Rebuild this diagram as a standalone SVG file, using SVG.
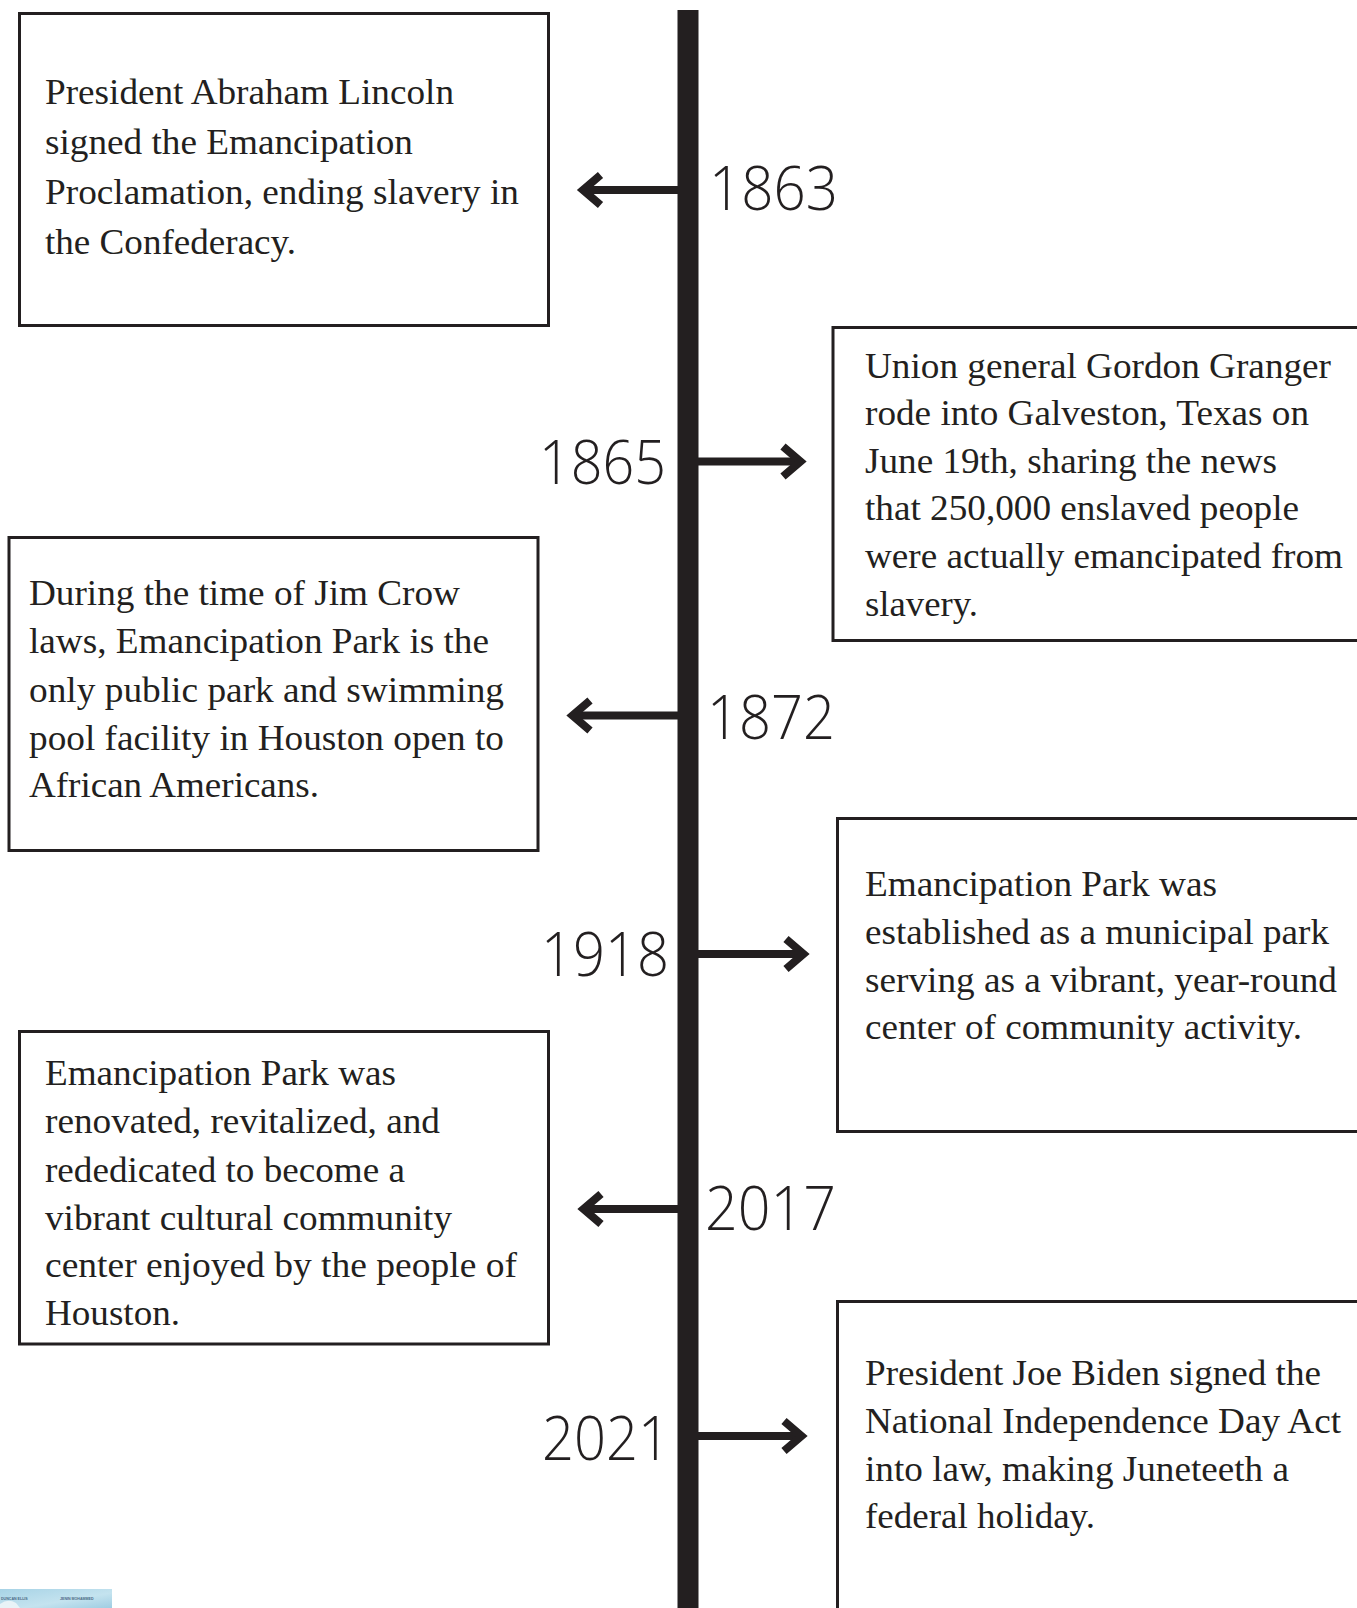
<svg xmlns="http://www.w3.org/2000/svg" width="1357" height="1608" viewBox="0 0 1357 1608">
<style>
.box{fill:#fff;stroke:#231f20;stroke-width:3}
.t{font-family:"Liberation Serif","Times New Roman",serif;font-size:35px;fill:#231f20}
.yr{font-family:"Open Sans","Lato","Liberation Sans",sans-serif;font-weight:300;font-size:61px;fill:#231f20}
.shaft{stroke:#231f20;stroke-width:8;fill:none}
</style>
<defs>
<marker id="chev" markerUnits="userSpaceOnUse" orient="auto" viewBox="-24 -20 32 40" refX="0" refY="0" markerWidth="32" markerHeight="40" overflow="visible">
<path d="M-17.5,-15 L0,0 L-17.5,15" fill="none" stroke="#231f20" stroke-width="8" stroke-linejoin="miter" stroke-miterlimit="10"/>
</marker>
<linearGradient id="thumb" x1="0" y1="0" x2="1" y2="1">
<stop offset="0" stop-color="#a7d3e6"/>
<stop offset="0.6" stop-color="#c4e3ef"/>
<stop offset="1" stop-color="#9fcde2"/>
</linearGradient>
</defs>

<rect id="timeline" x="677.5" y="10" width="21" height="1600" fill="#231f20"/>

<g id="connectors">
<line class="shaft" x1="680" y1="190" x2="583" y2="190" marker-end="url(#chev)"/>
<line class="shaft" x1="696" y1="461.5" x2="800.5" y2="461.5" marker-end="url(#chev)"/>
<line class="shaft" x1="680" y1="715.5" x2="572.5" y2="715.5" marker-end="url(#chev)"/>
<line class="shaft" x1="696" y1="954" x2="803.5" y2="954" marker-end="url(#chev)"/>
<line class="shaft" x1="680" y1="1209" x2="583.5" y2="1209" marker-end="url(#chev)"/>
<line class="shaft" x1="696" y1="1436" x2="801.5" y2="1436" marker-end="url(#chev)"/>
</g>

<g id="year-1863"><text class="yr" x="709" y="210" textLength="129" lengthAdjust="spacingAndGlyphs">1863</text></g>
<g id="year-1865"><text class="yr" x="539" y="484" textLength="127" lengthAdjust="spacingAndGlyphs">1865</text></g>
<g id="year-1872"><text class="yr" x="707" y="739" textLength="128" lengthAdjust="spacingAndGlyphs">1872</text></g>
<g id="year-1918"><text class="yr" x="541" y="976" textLength="128" lengthAdjust="spacingAndGlyphs">1918</text></g>
<g id="year-2017"><text class="yr" x="705" y="1230" textLength="131" lengthAdjust="spacingAndGlyphs">2017</text></g>
<g id="year-2021"><text class="yr" x="542" y="1460" textLength="128" lengthAdjust="spacingAndGlyphs">2021</text></g>

<g id="box-1863">
<rect class="box" x="19.5" y="13.5" width="529" height="312"/>
<text class="t" x="45" y="104" textLength="409" lengthAdjust="spacingAndGlyphs">President Abraham Lincoln</text>
<text class="t" x="45" y="154" textLength="368" lengthAdjust="spacingAndGlyphs">signed the Emancipation</text>
<text class="t" x="45" y="204" textLength="474" lengthAdjust="spacingAndGlyphs">Proclamation, ending slavery in</text>
<text class="t" x="45" y="254" textLength="251" lengthAdjust="spacingAndGlyphs">the Confederacy.</text>
</g>

<g id="box-1865">
<rect class="box" x="833" y="327.5" width="540" height="313"/>
<text class="t" x="865" y="377.5" textLength="466" lengthAdjust="spacingAndGlyphs">Union general Gordon Granger</text>
<text class="t" x="865" y="424.5" textLength="444" lengthAdjust="spacingAndGlyphs">rode into Galveston, Texas on</text>
<text class="t" x="865" y="472.5" textLength="412" lengthAdjust="spacingAndGlyphs">June 19th, sharing the news</text>
<text class="t" x="865" y="520" textLength="434" lengthAdjust="spacingAndGlyphs">that 250,000 enslaved people</text>
<text class="t" x="865" y="568" textLength="478" lengthAdjust="spacingAndGlyphs">were actually emancipated from</text>
<text class="t" x="865" y="616" textLength="113" lengthAdjust="spacingAndGlyphs">slavery.</text>
</g>

<g id="box-1872">
<rect class="box" x="9" y="537.5" width="529" height="313"/>
<text class="t" x="29" y="605" textLength="431" lengthAdjust="spacingAndGlyphs">During the time of Jim Crow</text>
<text class="t" x="29" y="653" textLength="460" lengthAdjust="spacingAndGlyphs">laws, Emancipation Park is the</text>
<text class="t" x="29" y="701.5" textLength="475" lengthAdjust="spacingAndGlyphs">only public park and swimming</text>
<text class="t" x="29" y="749.5" textLength="475" lengthAdjust="spacingAndGlyphs">pool facility in Houston open to</text>
<text class="t" x="29" y="797" textLength="290" lengthAdjust="spacingAndGlyphs">African Americans.</text>
</g>

<g id="box-1918">
<rect class="box" x="837.5" y="818.5" width="540" height="313"/>
<text class="t" x="865" y="895.5" textLength="352" lengthAdjust="spacingAndGlyphs">Emancipation Park was</text>
<text class="t" x="865" y="943.5" textLength="464" lengthAdjust="spacingAndGlyphs">established as a municipal park</text>
<text class="t" x="865" y="991.5" textLength="472" lengthAdjust="spacingAndGlyphs">serving as a vibrant, year-round</text>
<text class="t" x="865" y="1039" textLength="437" lengthAdjust="spacingAndGlyphs">center of community activity.</text>
</g>

<g id="box-2017">
<rect class="box" x="19.5" y="1031.5" width="529" height="312.5"/>
<text class="t" x="45" y="1085" textLength="351" lengthAdjust="spacingAndGlyphs">Emancipation Park was</text>
<text class="t" x="45" y="1133" textLength="395" lengthAdjust="spacingAndGlyphs">renovated, revitalized, and</text>
<text class="t" x="45" y="1181.5" textLength="360" lengthAdjust="spacingAndGlyphs">rededicated to become a</text>
<text class="t" x="45" y="1229.5" textLength="407" lengthAdjust="spacingAndGlyphs">vibrant cultural community</text>
<text class="t" x="45" y="1277" textLength="472" lengthAdjust="spacingAndGlyphs">center enjoyed by the people of</text>
<text class="t" x="45" y="1325" textLength="135" lengthAdjust="spacingAndGlyphs">Houston.</text>
</g>

<g id="box-2021">
<rect class="box" x="837.5" y="1301.5" width="540" height="340"/>
<text class="t" x="865" y="1384.5" textLength="456" lengthAdjust="spacingAndGlyphs">President Joe Biden signed the</text>
<text class="t" x="865" y="1433" textLength="476" lengthAdjust="spacingAndGlyphs">National Independence Day Act</text>
<text class="t" x="865" y="1481" textLength="424" lengthAdjust="spacingAndGlyphs">into law, making Juneteeth a</text>
<text class="t" x="865" y="1528" textLength="230" lengthAdjust="spacingAndGlyphs">federal holiday.</text>
</g>

<g id="thumbnail">
<rect x="0" y="1589" width="112" height="19" fill="url(#thumb)"/>
<path d="M0,1604 Q8,1598 16,1603 L20,1608 L0,1608 Z" fill="#e8f3f7"/>
<text x="1" y="1599.5" font-family="Liberation Sans, sans-serif" font-size="3.6" font-weight="bold" fill="#4a6a86">DUNCAN ELLIS</text>
<text x="60" y="1599.5" font-family="Liberation Sans, sans-serif" font-size="3.6" font-weight="bold" fill="#4a6a86">JENIN MOHAMMED</text>
</g>
</svg>
